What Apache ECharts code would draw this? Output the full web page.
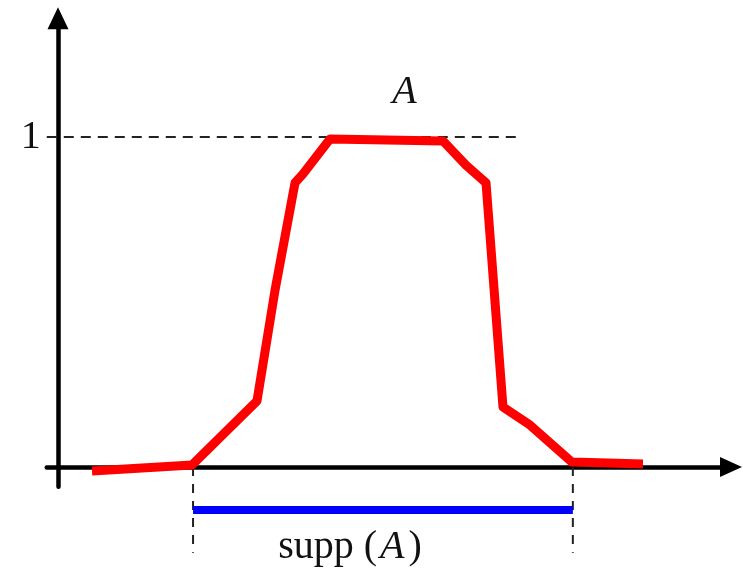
<!DOCTYPE html>
<html>
<head>
<meta charset="utf-8">
<style>
  html, body { margin: 0; padding: 0; background: #fff; }
  #main { width: 743px; height: 571px; }
</style>
<script src="https://cdn.jsdelivr.net/npm/echarts@6/dist/echarts.min.js"></script>
</head>
<body>
<div id="main"></div>
<script type="text/javascript">
  // membership function A (x, mu)
  var curveX = [3.03, 11.95, 17.74, 19.35, 21.13, 21.84, 24.25, 34.32, 36.37, 38.16, 39.67, 42.08, 45.82, 52.15];
  var curveY = [-0.012, 0.006, 0.2, 0.536, 0.861, 0.888, 0.994, 0.988, 0.915, 0.861, 0.182, 0.127, 0.015, 0.009];

  // support of A
  var suppStart = 12.04;
  var suppEnd = 45.9;
  var suppLevel = -0.13;
  var dropBottom = -0.26;

  // level 1 guide
  var oneLevel = 1;
  var oneLineX = [-1, 41.4];

  // where the two text labels sit (data units)
  var nameA = [30.94, 1.136];
  var nameSupp = [26.03, -0.245];

  var fontName = '"Liberation Serif", "DejaVu Serif", serif';

  var curve = [];
  for (var i = 0; i < curveX.length; i++) {
    curve.push([curveX[i], curveY[i]]);
  }

  var chart = echarts.init(document.getElementById('main'));

  var option = {
    animation: false,
    backgroundColor: '#fff',
    grid: {
      left: 46.78,
      right: 12,
      top: 18.2,
      bottom: 84.2
    },
    xAxis: {
      type: 'value',
      min: -1,
      max: 60,
      axisLine: {
        onZero: true,
        symbol: ['none', 'triangle'],
        symbolSize: [20, 22],
        lineStyle: { color: '#000', width: 4.5 }
      },
      axisTick: { show: false },
      axisLabel: { show: false },
      splitLine: { show: false }
    },
    yAxis: {
      type: 'value',
      min: -0.06,
      max: 1.36,
      axisLine: {
        onZero: true,
        symbol: ['none', 'triangle'],
        symbolSize: [21, 22],
        lineStyle: { color: '#000', width: 4.5 }
      },
      axisTick: { show: false },
      axisLabel: { show: false },
      splitLine: { show: false }
    },
    series: [
      {
        name: 'level1',
        type: 'line',
        data: [[oneLineX[0], oneLevel], [oneLineX[1], oneLevel]],
        symbol: 'none',
        lineStyle: { color: '#222', width: 2, type: [10, 7] },
        markPoint: {
          symbol: 'circle',
          symbolSize: 0,
          data: [{ coord: [oneLineX[0], oneLevel] }],
          label: {
            show: true,
            position: 'left',
            distance: 6,
            formatter: '1',
            color: '#111',
            fontFamily: fontName,
            fontSize: 40
          }
        },
        z: 2
      },
      {
        name: 'dropL',
        type: 'line',
        data: [[suppStart, 0], [suppStart, dropBottom]],
        symbol: 'none',
        clip: false,
        lineStyle: { color: '#222', width: 2, type: [9, 8] },
        z: 1
      },
      {
        name: 'dropR',
        type: 'line',
        data: [[suppEnd, 0], [suppEnd, dropBottom]],
        symbol: 'none',
        clip: false,
        lineStyle: { color: '#222', width: 2, type: [9, 8] },
        z: 1
      },
      {
        name: 'supp',
        type: 'line',
        data: [[suppStart, suppLevel], [suppEnd, suppLevel]],
        symbol: 'none',
        clip: false,
        lineStyle: { color: '#0000ff', width: 8, cap: 'butt' },
        z: 3
      },
      {
        name: 'A',
        type: 'line',
        data: curve,
        symbol: 'none',
        clip: false,
        lineStyle: { color: '#ff0000', width: 9, join: 'round' },
        z: 4
      },
      {
        name: 'names',
        type: 'scatter',
        clip: false,
        symbolSize: 1,
        itemStyle: { color: 'rgba(0,0,0,0)', opacity: 1 },
        silent: true,
        data: [
          { value: nameA, label: { formatter: '{i|A}' } },
          { value: nameSupp, label: { formatter: '{a|supp (}{i|A}{a|)}' } }
        ],
        label: {
          show: true,
          position: 'inside',
          color: '#111',
          rich: {
            a: { fontFamily: fontName, fontSize: 40, color: '#111' },
            i: { fontFamily: fontName, fontSize: 40, fontStyle: 'italic', color: '#111', padding: [0, 4, 0, 3] }
          }
        },
        z: 5
      }
    ]
  };

  chart.setOption(option);
</script>
</body>
</html>
